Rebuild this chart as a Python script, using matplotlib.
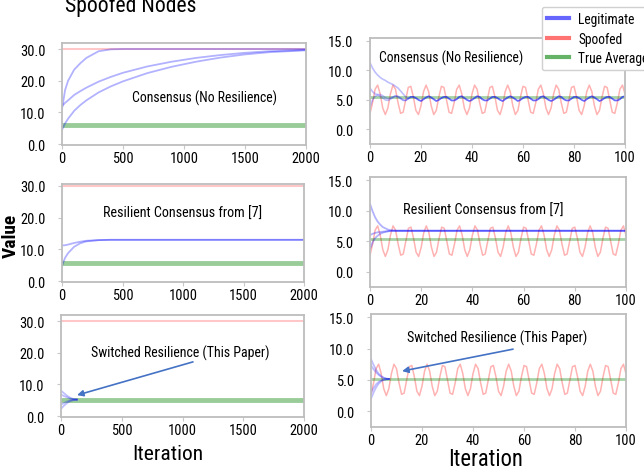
import matplotlib
matplotlib.use('Agg')
import matplotlib.pyplot as plt
from matplotlib import font_manager
from matplotlib.lines import Line2D
from matplotlib.ticker import FormatStrFormatter

# pick a narrow font if there is one (reference text is Calibri-like and squeezed)
names = sorted({f.name for f in font_manager.fontManager.ttflist})
narrow = 'Lato'
for cand in ['Liberation Sans Narrow', 'Roboto Condensed', 'Noto Sans Condensed',
             'Open Sans Condensed', 'Arial Narrow']:
    if cand in names:
        narrow = cand
        break
else:
    for n in names:
        if 'Condensed' in n or 'Narrow' in n:
            narrow = n
            break
plt.rcParams['font.family'] = [narrow, 'DejaVu Sans']

# ---------------- data: long runs (0..2000 iterations) ----------------
iters_long = [0, 25, 50, 100, 150, 200, 300, 400, 500, 700, 900, 1100, 1300, 1500, 1700, 2000]
nores_a = [11.0, 17.0, 20.0, 23.5, 25.5, 27.2, 29.3, 29.9, 30.0, 30.0, 30.0, 30.0, 30.0, 30.0, 30.0, 30.0]
nores_b = [12.0, 13.0, 13.8, 15.5, 16.7, 17.8, 19.7, 21.2, 22.5, 24.5, 26.0, 27.2, 28.1, 28.8, 29.3, 29.7]
nores_c = [4.5, 6.5, 8.0, 10.5, 12.3, 13.8, 16.3, 18.2, 19.8, 22.4, 24.4, 26.0, 27.3, 28.3, 29.0, 29.6]

iters_res = [0, 25, 50, 100, 150, 200, 300, 400, 500, 2000]
res_a = [11.2, 11.3, 11.5, 12.0, 12.4, 12.7, 12.9, 13.0, 13.0, 13.0]
res_b = [4.8, 7.3, 8.8, 10.8, 11.9, 12.5, 12.9, 13.0, 13.0, 13.0]

iters_sw = [0, 25, 50, 75, 100, 130]
sw_long = [
    [8.0, 7.2, 6.4, 5.8, 5.4, 5.2],
    [6.8, 6.3, 5.9, 5.5, 5.3, 5.2],
    [3.6, 4.1, 4.6, 4.9, 5.1, 5.2],
    [2.3, 3.3, 4.1, 4.7, 5.0, 5.2],
]

spoof_long = 30.0
true_avg_long = [6.0, 5.7, 5.2]   # top, middle, bottom panel

# ---------------- data: short runs (0..100 iterations) ----------------
iters_short = list(range(101))
spoofed_short = [
    2.7, 4.5, 6.8, 7.5, 6.0, 3.6, 2.5, 3.6, 6.0, 7.5, 6.8, 4.5, 2.7, 2.9, 5.0, 7.1,
    7.3, 5.5, 3.2, 2.5, 4.0, 6.4, 7.5, 6.4, 4.0, 2.5, 3.2, 5.5, 7.3, 7.1, 5.0, 2.9,
    2.7, 4.5, 6.8, 7.5, 6.0, 3.6, 2.5, 3.6, 6.0, 7.5, 6.8, 4.5, 2.7, 2.9, 5.0, 7.1,
    7.3, 5.5, 3.2, 2.5, 4.0, 6.4, 7.5, 6.4, 4.0, 2.5, 3.2, 5.5, 7.3, 7.1, 5.0, 2.9,
    2.7, 4.5, 6.8, 7.5, 6.0, 3.6, 2.5, 3.6, 6.0, 7.5, 6.8, 4.5, 2.7, 2.9, 5.0, 7.1,
    7.3, 5.5, 3.2, 2.5, 4.0, 6.4, 7.5, 6.4, 4.0, 2.5, 3.2, 5.5, 7.3, 7.1, 5.0, 2.9,
    2.7, 4.5, 6.8, 7.5, 6.0,
]

# no resilience: legit nodes start apart, then wobble together (t = 15..100)
nores_tail = [
    5.2, 5.5, 5.5, 5.3, 5.0, 4.8, 5.1, 5.4, 5.6, 5.4, 5.1, 4.8, 5.0, 5.3, 5.5, 5.5, 5.2,
    4.9, 4.9, 5.1, 5.5, 5.6, 5.3, 5.0, 4.8, 5.0, 5.3, 5.6, 5.5, 5.1, 4.9, 4.9, 5.2,
    5.5, 5.5, 5.3, 5.0, 4.8, 5.1, 5.4, 5.6, 5.4, 5.1, 4.8, 5.0, 5.3, 5.5, 5.5, 5.2,
    4.9, 4.9, 5.1, 5.5, 5.6, 5.3, 5.0, 4.8, 5.0, 5.3, 5.6, 5.5, 5.1, 4.9, 4.9, 5.2,
    5.5, 5.5, 5.3, 5.0, 4.8, 5.1, 5.4, 5.6, 5.4, 5.1, 4.8, 5.0, 5.3, 5.5, 5.5, 5.2,
    4.9, 4.9, 5.1, 5.5, 5.6,
]
nores_start_a = [11.3, 10.4, 9.7, 9.2, 8.8, 8.5, 8.3, 8.0, 7.8, 7.6, 7.3, 7.0, 6.5, 6.0, 5.5]
nores_start_b = [7.0, 6.4, 6.0, 5.9, 5.9, 5.7, 5.4, 5.2, 5.3, 5.5, 5.7, 5.6, 5.3, 5.0, 4.9]
nores_start_c = [3.8, 5.0, 5.6, 5.8, 5.6, 5.3, 5.0, 4.9, 5.1, 5.4, 5.6, 5.5, 5.2, 4.9, 4.9]

iters_res_s = [0, 1, 2, 3, 4, 5, 6, 7, 8, 9, 10, 12, 100]
res_s = [
    [11.1, 9.9, 8.9, 8.2, 7.7, 7.3, 7.1, 6.9, 6.8, 6.75, 6.7, 6.7, 6.7],
    [6.0, 6.2, 6.35, 6.45, 6.5, 6.55, 6.6, 6.65, 6.7, 6.7, 6.7, 6.7, 6.7],
    [3.7, 4.8, 5.5, 5.9, 6.2, 6.4, 6.5, 6.6, 6.65, 6.7, 6.7, 6.7, 6.7],
]

iters_sw_s = [0, 1, 2, 3, 4, 5, 6, 7]
sw_s = [
    [8.3, 7.4, 6.6, 6.0, 5.6, 5.35, 5.2, 5.15],
    [7.3, 6.7, 6.2, 5.8, 5.5, 5.3, 5.2, 5.15],
    [3.0, 3.7, 4.3, 4.7, 4.9, 5.05, 5.1, 5.15],
    [2.0, 3.0, 3.8, 4.4, 4.8, 5.0, 5.1, 5.15],
]
true_avg_short = [5.4, 5.4, 5.2]

long_ticks = [0, 500, 1000, 1500, 2000]
long_yticks = [0, 10, 20, 30]
short_ticks = [0, 20, 40, 60, 80, 100]
short_yticks = [0, 5, 10, 15]

panel_titles = ['Consensus (No Resilience)', 'Resilient Consensus from [7]',
                'Switched Resilience (This Paper)']

BLUE = (0.0, 0.0, 1.0)
RED = (1.0, 0.0, 0.0)
GREEN = (0.0, 0.5, 0.0)
ARROW = '#4472c4'

fig = plt.figure(figsize=(6.44, 4.77), dpi=100)
W, H = 644.0, 477.0
renderer = fig.canvas.get_renderer()


def box(x0, y0, x1, y1):
    return [x0 / W, 1 - y1 / H, (x1 - x0) / W, (y1 - y0) / H]


def fit(t, length_px):
    # scale a text so it runs about as many pixels as in the reference
    bb = t.get_window_extent(renderer)
    cur = bb.height if t.get_rotation() == 90 else bb.width
    t.set_fontsize(t.get_fontsize() * length_px / cur)
    return t


# tick label size: "30.0" is about 25 px wide in the reference
probe = fig.text(0, 0, '30.0', fontsize=10)
tick_size = 10 * 25.0 / probe.get_window_extent(renderer).width
probe.remove()


def style(ax, xt, yt, xlim, ylim):
    ax.set_xlim(*xlim)
    ax.set_ylim(*ylim)
    ax.set_xticks(xt)
    ax.set_yticks(yt)
    ax.yaxis.set_major_formatter(FormatStrFormatter('%.1f'))
    for s in ax.spines.values():
        s.set_color('#bdbdbd')
        s.set_linewidth(1.3)
    ax.tick_params(length=3, width=0.8, color='#c8c8c8', labelsize=tick_size, pad=1)
    ax.tick_params(axis='y', pad=9)


# ---- left column ----
ax_tl = fig.add_axes(box(62, 44, 306, 146))
ax_ml = fig.add_axes(box(62, 185, 304, 283))
ax_bl = fig.add_axes(box(61, 316, 304, 418))
# ---- right column ----
ax_tr = fig.add_axes(box(370, 39, 625, 145))
ax_mr = fig.add_axes(box(370, 178, 626, 288))
ax_br = fig.add_axes(box(371, 315, 626, 428))

left_axes = [ax_tl, ax_ml, ax_bl]
right_axes = [ax_tr, ax_mr, ax_br]

# long runs
for ax, avg in zip(left_axes, true_avg_long):
    ax.axhline(spoof_long, color=RED, alpha=0.22, lw=1.5)
    ax.axhline(avg, color=GREEN, alpha=0.4, lw=3.5)

for ys in [nores_a, nores_b, nores_c]:
    ax_tl.plot(iters_long, ys, color=BLUE, alpha=0.3, lw=1.3)
for ys in [res_a, res_b]:
    ax_ml.plot(iters_res, ys, color=BLUE, alpha=0.3, lw=1.3)
for ys in sw_long:
    ax_bl.plot(iters_sw, ys, color=BLUE, alpha=0.25, lw=1.3)

style(ax_tl, long_ticks, long_yticks, (0, 2000), (-0.3, 31.9))
style(ax_ml, long_ticks, long_yticks, (0, 2000), (-0.3, 30.6))
style(ax_bl, long_ticks, long_yticks, (0, 2000), (-0.3, 31.9))

# short runs
for ax, avg in zip(right_axes, true_avg_short):
    ax.plot(iters_short, spoofed_short, color=RED, alpha=0.3, lw=1.1)
    ax.axhline(avg, color=GREEN, alpha=0.35, lw=2)

for start in [nores_start_a, nores_start_b, nores_start_c]:
    ax_tr.plot(iters_short, start + nores_tail, color=BLUE, alpha=0.25, lw=1.2)
for ys in res_s:
    ax_mr.plot(iters_res_s, ys, color=BLUE, alpha=0.3, lw=1.3)
for ys in sw_s:
    ax_br.plot(iters_sw_s, ys, color=BLUE, alpha=0.25, lw=1.3)

for ax in right_axes:
    style(ax, short_ticks, short_yticks, (0, 100), (-2.5, 15.5))

# panel captions
fit(ax_tl.text(1168, 14.8, panel_titles[0], ha='center', va='center', fontsize=10), 145)
fit(ax_tr.text(31.8, 12.3, panel_titles[0], ha='center', va='center', fontsize=10), 144)
fit(ax_ml.text(996, 21.5, panel_titles[1], ha='center', va='center', fontsize=10), 159)
fit(ax_mr.text(44.1, 10.1, panel_titles[1], ha='center', va='center', fontsize=10), 160)
fit(ax_bl.text(979, 20.2, panel_titles[2], ha='center', va='center', fontsize=10), 179)
fit(ax_br.text(49.4, 11.8, panel_titles[2], ha='center', va='center', fontsize=10), 180)

arrow = dict(arrowstyle='-|>', color=ARROW, lw=1.2, mutation_scale=9, shrinkA=0, shrinkB=0)
ax_bl.annotate('', xy=(132, 6.6), xytext=(1086, 17.1), arrowprops=arrow)
ax_br.annotate('', xy=(12.2, 6.4), xytext=(55.7, 9.9), arrowprops=arrow)

# figure labels
fit(fig.text(65 / W, 1 - 12 / H, 'Spoofed Nodes', fontsize=16, va='baseline', ha='left'), 132)
fit(fig.text(11 / W, 1 - 236 / H, 'Value', rotation=90, fontsize=13, fontweight='bold',
             ha='center', va='center'), 44)
fit(fig.text(168 / W, 1 - 455 / H, 'Iteration', fontsize=16, ha='center', va='center'), 71)
fit(fig.text(486 / W, 1 - 460 / H, 'Iteration', fontsize=16, ha='center', va='center'), 75)

# legend font sized so "Legitimate" is about 56 px wide
probe = fig.text(0, 0, 'Legitimate', fontsize=10)
leg_size = 10 * 56.0 / probe.get_window_extent(renderer).width
probe.remove()

handles = [Line2D([], [], color=BLUE, alpha=0.6, lw=3),
           Line2D([], [], color=RED, alpha=0.55, lw=3),
           Line2D([], [], color=GREEN, alpha=0.6, lw=3)]
leg = fig.legend(handles, ['Legitimate', 'Spoofed', 'True Average'],
                 loc='upper left', bbox_to_anchor=(535 / W, 1 - 1 / H),
                 prop={'size': leg_size}, frameon=True, fancybox=True,
                 handlelength=1.6, handletextpad=0.7, borderpad=0.4, labelspacing=0.4)
leg.get_frame().set_edgecolor('#d0d0d0')
leg.get_frame().set_alpha(1.0)

fig.savefig('out.png', dpi=100)
